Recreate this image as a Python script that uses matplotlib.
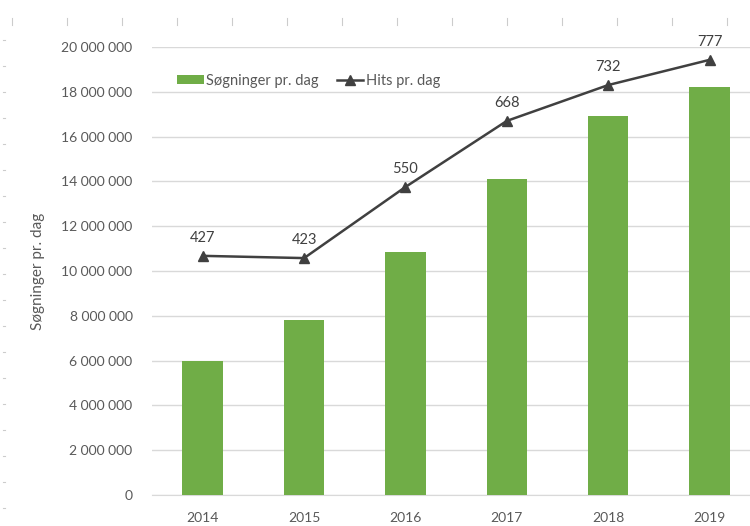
import matplotlib.pyplot as plt
from matplotlib.ticker import FuncFormatter

years = ["2014", "2015", "2016", "2017", "2018", "2019"]
searches = [6000000, 7800000, 10850000, 14100000, 16900000, 18200000]
hits = [427, 423, 550, 668, 732, 777]

plt.rcParams['font.family'] = ['Lato', 'DejaVu Sans']
grey = "#595959"

fig = plt.figure(figsize=(7.5, 5.26), dpi=100)
ax = fig.add_axes([0.2027, 0.059, 0.811, 0.8517])
ax2 = ax.twinx()

x = range(len(years))
ax.bar(x, searches, width=0.4, color="#70ad47", label="Søgninger pr. dag", zorder=3)
ax2.plot(x, hits, color="#404040", lw=1.8, marker="^", ms=7, label="Hits pr. dag", zorder=4)
for i, v in enumerate(hits):
    ax2.annotate(str(v), (i, v), xytext=(0, 8), textcoords="offset points",
                 ha="center", va="bottom", fontsize=10.5, color="#404040")

ax.set_xlim(-0.5, 5.5)
ax.set_ylim(0, 20000000)
ax2.set_ylim(0, 800)
ax.set_yticks(range(0, 20000001, 2000000))
ax.yaxis.set_major_formatter(FuncFormatter(lambda v, p: f"{int(v):,}".replace(",", " ")))
ax.set_xticks(list(x))
ax.set_xticklabels(years)
ax.grid(axis="y", color="#d9d9d9", lw=1, zorder=0)
ax.set_axisbelow(True)
for a in (ax, ax2):
    for s in a.spines.values():
        s.set_visible(False)
ax.spines["bottom"].set_visible(True)
ax.spines["bottom"].set_color("#d9d9d9")
ax.tick_params(length=0, colors=grey, labelsize=10)
ax.tick_params(axis="y", pad=14)
ax.tick_params(axis="x", pad=12)
ax2.set_yticks([])
ax.set_ylabel("Søgninger pr. dag", color=grey, fontsize=11, labelpad=12)

h1, l1 = ax.get_legend_handles_labels()
h2, l2 = ax2.get_legend_handles_labels()
ax2.legend(h1 + h2, l1 + l2, ncol=2, frameon=False, loc="upper left",
           bbox_to_anchor=(0.02, 0.97), fontsize=10.5, labelcolor=grey,
           handlelength=1.8, handleheight=0.5, handletextpad=0.2, columnspacing=1.2)

# faint ruler marks along the left and top edges
for yy in range(40, 526, 26):
    fig.add_artist(plt.Line2D([0.004, 0.006], [1 - yy / 526] * 2, color="#cccccc", lw=0.8))
for xx in range(12, 750, 55):
    fig.add_artist(plt.Line2D([xx / 750] * 2, [1 - 18 / 526, 1 - 25 / 526], color="#cccccc", lw=0.8))

fig.savefig("out.png", dpi=100)
